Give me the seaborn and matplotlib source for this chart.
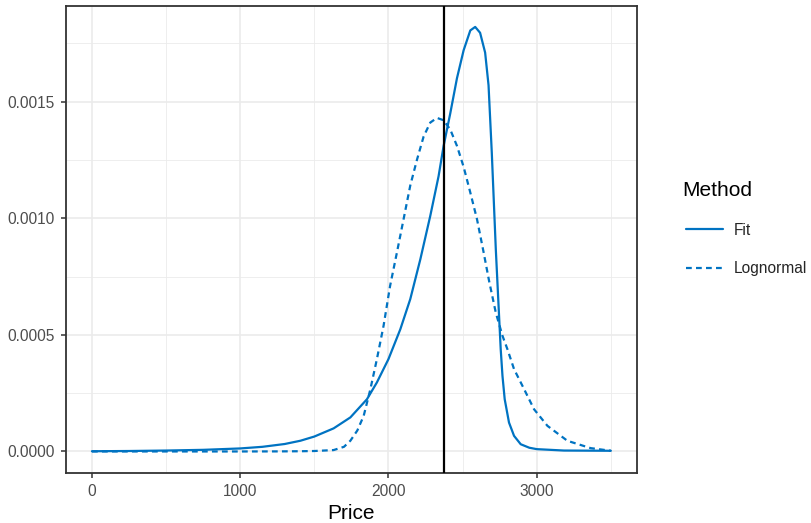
import numpy as np
import pandas as pd
import matplotlib
matplotlib.use("Agg")
import matplotlib.pyplot as plt
from matplotlib.ticker import FixedLocator, MultipleLocator
import seaborn as sns

# ---- data ----
fit_price = [0, 250, 500, 750, 1000, 1150, 1300, 1406, 1500, 1630, 1743, 1855,
             1922, 2000, 2080, 2147, 2215, 2282, 2338, 2372, 2417, 2462, 2507,
             2552, 2585, 2618, 2652, 2675, 2697, 2724, 2735, 2746, 2757, 2769,
             2784, 2813, 2847, 2892, 2950, 3000, 3184, 3500]
fit_density = [0.000001, 0.000002, 0.000004, 0.000007, 0.000013, 0.000020,
               0.000032, 0.000046, 0.000064, 0.000099, 0.000146, 0.000224,
               0.000296, 0.000396, 0.000524, 0.000653, 0.000824, 0.001010,
               0.001180, 0.001310, 0.001450, 0.001600, 0.001720, 0.001805,
               0.001820, 0.001795, 0.001710, 0.001570, 0.001280, 0.000867,
               0.000724, 0.000581, 0.000439, 0.000324, 0.000224, 0.000124,
               0.000067, 0.000031, 0.000016, 0.000010, 0.000004, 0.000003]

logn_price = [0, 500, 1000, 1250, 1406, 1500, 1630, 1700, 1743, 1790, 1833,
              1878, 1922, 1967, 2011, 2057, 2102, 2147, 2192, 2237, 2282, 2327,
              2372, 2417, 2462, 2507, 2552, 2597, 2642, 2679, 2724, 2769, 2802,
              2847, 2915, 2982, 3072, 3207, 3364, 3500]
logn_density = [0.0, 0.0, 0.0, 0.0000003, 0.000001, 0.000002, 0.000006,
                0.000020, 0.000046, 0.000090, 0.000153, 0.000267, 0.000396,
                0.000539, 0.000710, 0.000853, 0.000996, 0.001140, 0.001250,
                0.001350, 0.001410, 0.001430, 0.001420, 0.001380, 0.001310,
                0.001220, 0.001110, 0.000996, 0.000853, 0.000730, 0.000595,
                0.000496, 0.000439, 0.000353, 0.000267, 0.000181, 0.000110,
                0.0000457, 0.0000143, 0.000003]

methods = ["Fit", "Lognormal"]
vline_price = 2375
x_ticks = [0, 1000, 2000, 3000]
y_ticks = [0.0, 0.0005, 0.0010, 0.0015]
y_tick_labels = ["0.0000", "0.0005", "0.0010", "0.0015"]

df = pd.concat([
    pd.DataFrame({"Price": fit_price, "Density": fit_density, "Method": methods[0]}),
    pd.DataFrame({"Price": logn_price, "Density": logn_density, "Method": methods[1]}),
], ignore_index=True)

BLUE = "#0073C2"

sns.set_style("white")
plt.rcParams["font.family"] = ["Liberation Sans", "DejaVu Sans"]

fig = plt.figure(figsize=(8.12, 5.23), dpi=100)
ax = fig.add_axes([66 / 812, 1 - 472.7 / 523, (636.8 - 66) / 812, (472.7 - 5.7) / 523])

sns.lineplot(data=df, x="Price", y="Density", style="Method", style_order=methods,
             color=BLUE, dashes={"Fit": "", "Lognormal": (2.6, 1.9)},
             linewidth=1.6, estimator=None, sort=True, ax=ax)
for ln in ax.get_lines():
    ln.set_solid_joinstyle("round")
    ln.set_dash_joinstyle("round")
ax.axvline(vline_price, color="black", lw=1.6, zorder=3)

# limits with ggplot-like 5% expansion
allx = df["Price"]
ally = df["Density"]
xr = allx.max() - allx.min()
yr = ally.max() - ally.min()
ax.set_xlim(allx.min() - 0.05 * xr, allx.max() + 0.05 * xr)
ax.set_ylim(ally.min() - 0.05 * yr, ally.max() + 0.05 * yr)

ax.xaxis.set_major_locator(FixedLocator(x_ticks))
ax.yaxis.set_major_locator(FixedLocator(y_ticks))
ax.set_yticklabels(y_tick_labels)
ax.xaxis.set_minor_locator(MultipleLocator(500))
ax.yaxis.set_minor_locator(MultipleLocator(0.00025))

ax.set_axisbelow(True)
ax.grid(which="major", color="#EBEBEB", lw=1.2)
ax.grid(which="minor", color="#EBEBEB", lw=0.6)
ax.tick_params(which="major", bottom=True, left=True, length=3.8, width=1.1,
               color="#333333", labelsize=11.2, labelcolor="#4D4D4D", pad=4.5)
ax.tick_params(which="minor", bottom=False, left=False, length=0)
for s in ax.spines.values():
    s.set_color("#333333")
    s.set_linewidth(1.3)

ax.set_xlabel("Price", fontsize=15, color="black", labelpad=3.2)
ax.set_ylabel("")

handles, labels = ax.get_legend_handles_labels()
if ax.get_legend() is not None:
    ax.get_legend().remove()
leg = fig.legend(handles, labels, loc="center left",
                 bbox_to_anchor=(686 / 812, 1 - 249.5 / 523), frameon=False,
                 fontsize=11.2, handlelength=2.38, handletextpad=0.7,
                 labelspacing=1.5, borderpad=0, borderaxespad=0)
for line in leg.get_lines():
    line.set_linewidth(1.6)
fig.text(682 / 812, 1 - 195.5 / 523, "Method", fontsize=15, color="black",
         ha="left", va="baseline")

fig.savefig("out.png", dpi=100)
